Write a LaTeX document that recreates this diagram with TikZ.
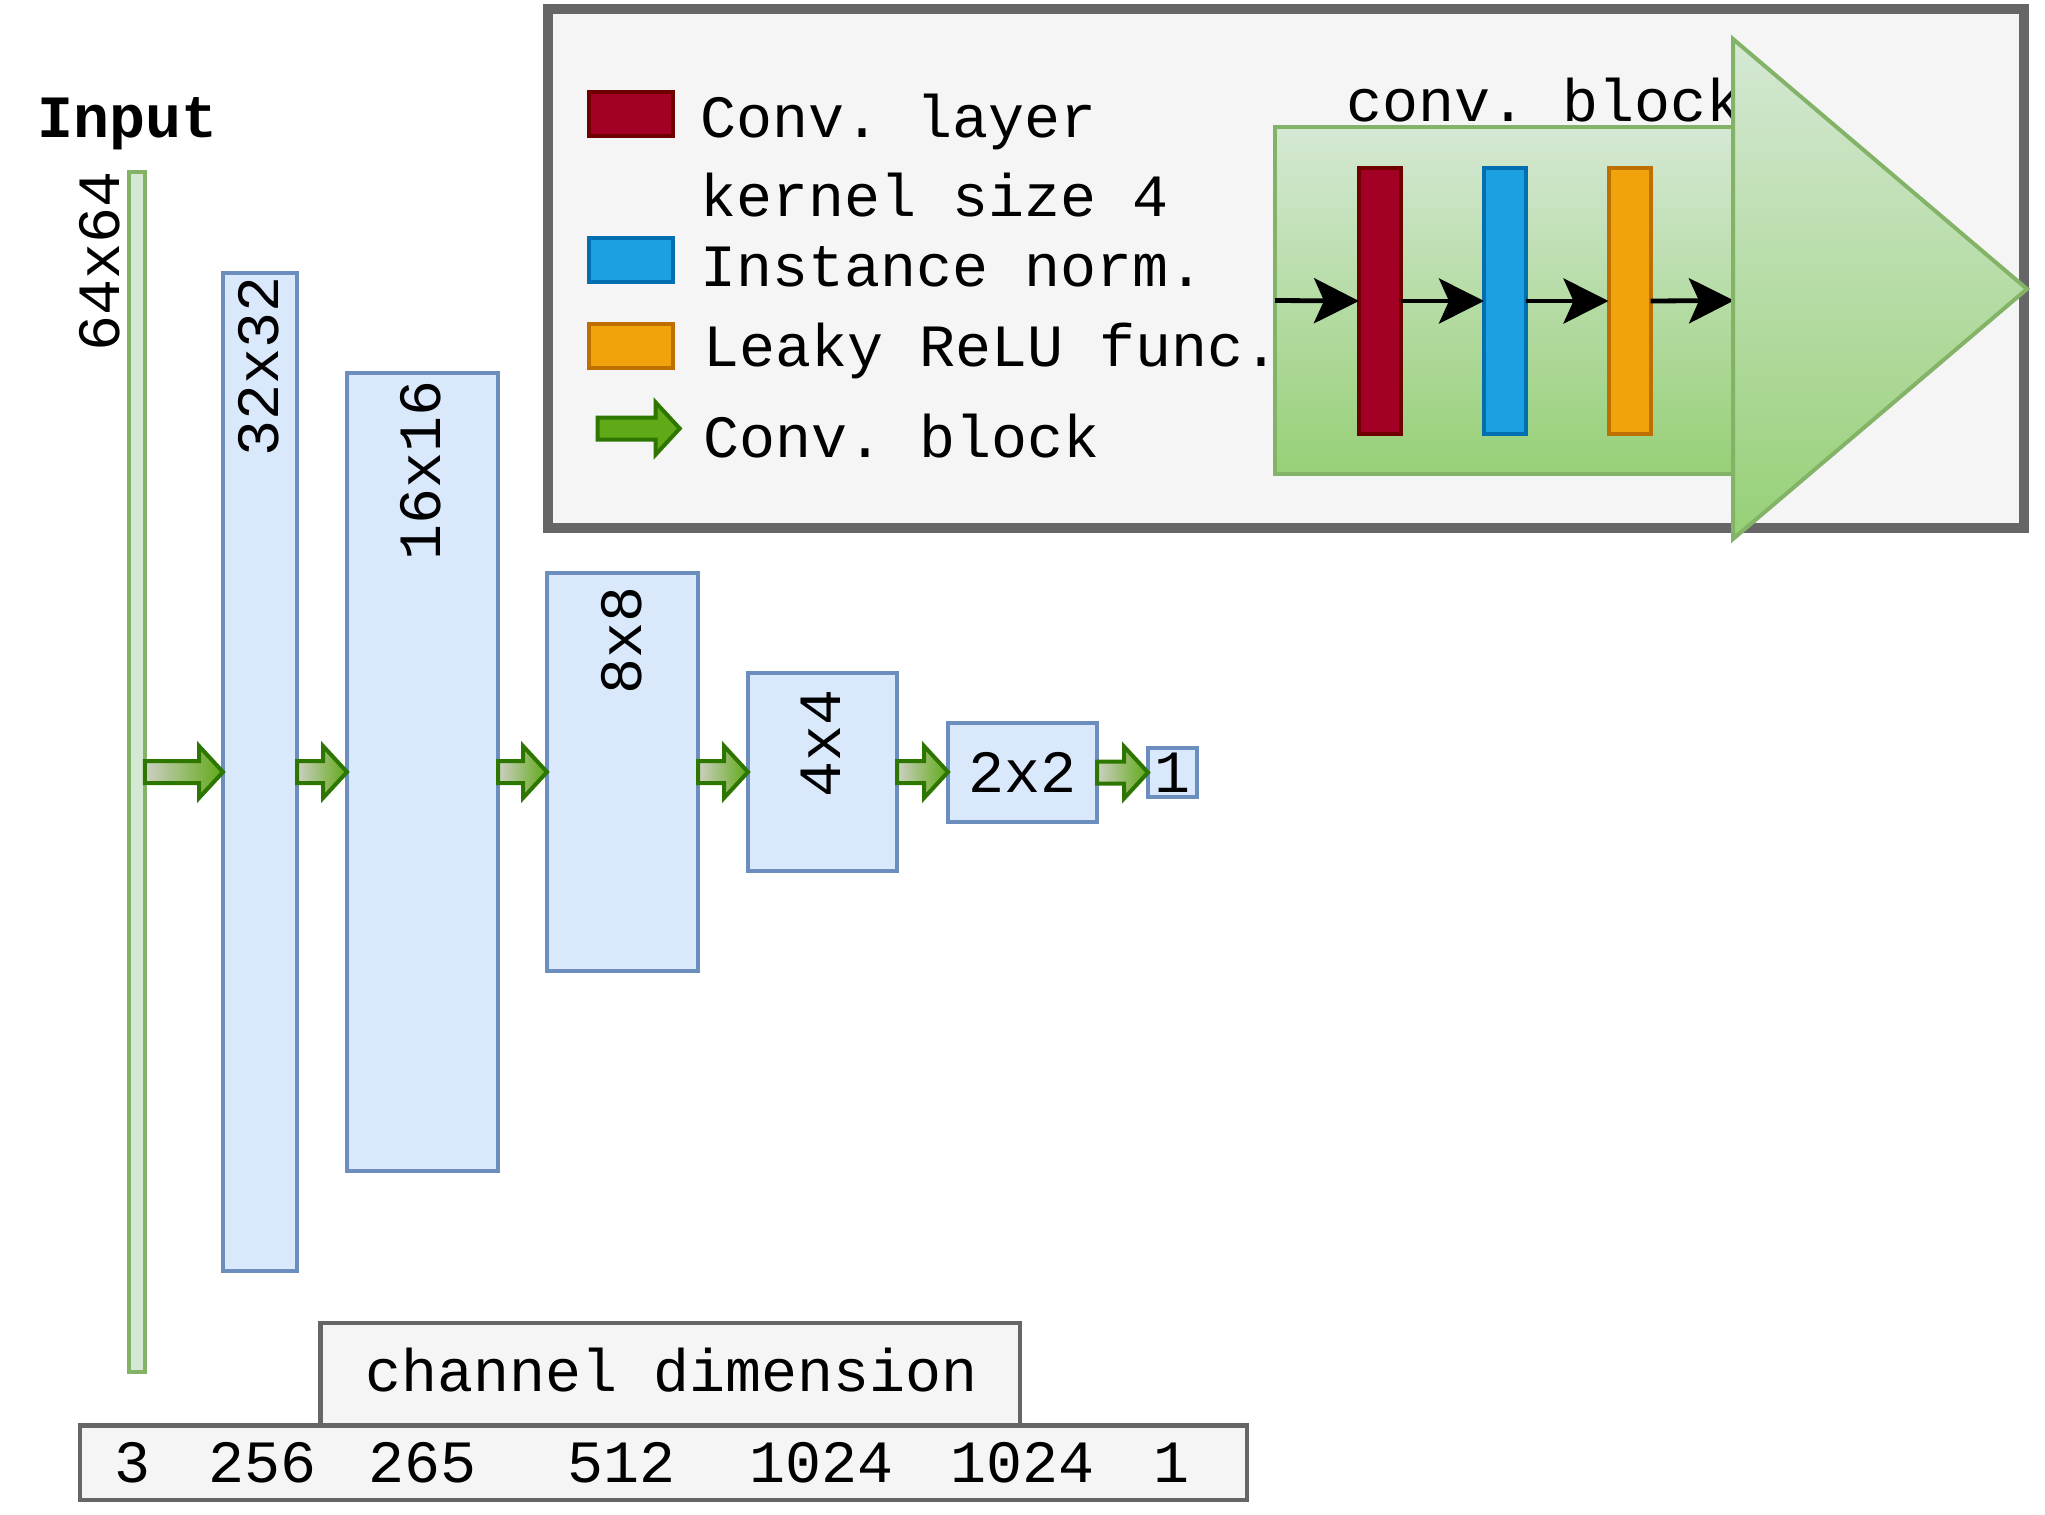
\documentclass[tikz,border=0pt]{standalone}
\usepackage{fontspec}
\setmainfont{Liberation Mono}
\usetikzlibrary{arrows.meta,calc}
\definecolor{bfill}{HTML}{DAE8FC}
\definecolor{bstroke}{HTML}{6C8EBF}
\definecolor{gfill}{HTML}{D5E8D4}
\definecolor{gstroke}{HTML}{82B366}
\definecolor{gdark}{HTML}{97D077}
\definecolor{grayfill}{HTML}{F5F5F5}
\definecolor{graystroke}{HTML}{666666}
\definecolor{redfill}{HTML}{A20025}
\definecolor{redstroke}{HTML}{6F0000}
\definecolor{bluefill}{HTML}{1BA1E2}
\definecolor{bluestroke}{HTML}{006EAF}
\definecolor{orfill}{HTML}{F0A30A}
\definecolor{orstroke}{HTML}{BD7000}
\definecolor{arrfill}{HTML}{60A917}
\definecolor{arrstroke}{HTML}{2D7600}
\definecolor{arrlight}{RGB}{205,208,195}
\newcommand\blockarrow[3][blockarr]{%
  \path[#1] let \p1=(#2), \p2=(#3) in
   (\x1,\y1+5.5pt) -- (\x2-12pt,\y1+5.5pt) -- (\x2-12pt,\y1+13pt) -- (\x2,\y1)
   -- (\x2-12pt,\y1-13pt) -- (\x2-12pt,\y1-5.5pt) -- (\x1,\y1-5.5pt) -- cycle;}
\frenchspacing
\begin{document}
\begin{tikzpicture}[x=0.5pt,y=-0.5pt,
  every node/.style={font=\fontsize{30}{36}\selectfont\frenchspacing, inner sep=0pt, outer sep=0pt},
  fmap/.style={draw=bstroke, fill=bfill, line width=2pt},
  inbar/.style={draw=gstroke, fill=gfill, line width=2pt},
  graybox/.style={draw=graystroke, fill=grayfill, line width=2.25pt},
  layerbox/.style={line width=2pt},
  rotlabel/.style={rotate=90, anchor=east},
  txt/.style={anchor=base west},
  numtxt/.style={anchor=base},
  blockarr/.style={draw=arrstroke, line width=2pt, left color=arrlight, right color=arrfill},
  legarr/.style={draw=arrstroke, line width=2pt, fill=arrfill},
  inarr/.style={line width=2.4pt, -{Stealth[length=22.5pt,width=22.5pt,inset=5pt]}},
  cbshade/.style={draw=gstroke, line width=2pt, top color=gfill, bottom color=gdark}
]
\useasboundingbox (0,0) rectangle (2045,1515);

% ---------- legend ----------
\node[draw=graystroke, fill=grayfill, line width=5pt, minimum width=738.25pt, minimum height=259.5pt] (legend) at (1285.75,268.5) {};
\node[layerbox, draw=redstroke, fill=redfill, minimum width=42pt, minimum height=22pt] (lred) at (630.8,114.2) {};
\node[layerbox, draw=bluestroke, fill=bluefill, minimum width=42pt, minimum height=22pt] (lblue) at (630.8,259.5) {};
\node[layerbox, draw=orstroke, fill=orfill, minimum width=42pt, minimum height=22pt] (lor) at (630.8,346) {};
\coordinate (la) at (597.7,428.5);
\coordinate (lb) at (679.7,428.5);
\blockarrow[legarr]{la}{lb}
\node[txt] (t1) at (700,137.7) {Conv. layer};
\node[txt] (t2) at (700,216) {kernel size 4};
\node[txt] (t3) at (700,286.7) {Instance norm.};
\node[txt] (t4) at (703,366) {Leaky ReLU func.};
\node[txt] (t5) at (703,457) {Conv. block};

% ---------- conv block detail ----------
\node[cbshade, minimum width=229.5pt, minimum height=173.5pt] (cbrect) at (1504.5,300.5) {};
\node[layerbox, draw=redstroke, fill=redfill, minimum width=21pt, minimum height=133pt] (cred) at (1380,301) {};
\node[layerbox, draw=bluestroke, fill=bluefill, minimum width=21pt, minimum height=133pt] (cblue) at (1505,301) {};
\node[layerbox, draw=orstroke, fill=orfill, minimum width=21pt, minimum height=133pt] (cor) at (1629.5,301) {};
\draw[inarr] (cbrect.west) -- (cred.west);
\draw[inarr] (cred.east) -- (cblue.west);
\draw[inarr] (cblue.east) -- (cor.west);
\draw[inarr] (cor.east) -- (cbrect.east);
\node[txt] (cbtitle) at (1346,121.7) {conv. block};
\path[cbshade] (1733,39) -- (2027,289) -- (1733,539) -- cycle;

% ---------- network ----------
\node[txt, font=\fontsize{30}{36}\selectfont\bfseries] (inputlbl) at (38,137) {Input};
\node[inbar, minimum width=7.8pt, minimum height=600pt] (in) at (137,772) {};
\node[fmap, minimum width=37pt, minimum height=499.2pt] (b1) at (260,772) {};
\node[fmap, minimum width=75.5pt, minimum height=399pt] (b2) at (422.5,772) {};
\node[fmap, minimum width=75.5pt, minimum height=199pt] (b3) at (622.5,772) {};
\node[fmap, minimum width=74.5pt, minimum height=99pt] (b4) at (822.5,772) {};
\node[fmap, minimum width=74.5pt, minimum height=49.5pt] (b5) at (1022.5,772.5) {2x2};
\node[fmap, minimum width=24.5pt, minimum height=24.5pt] (b6) at (1172.5,772.5) {1};

\node[rotlabel] (l0) at (100,171) {64x64};
\node[rotlabel] (l1) at (259,276) {32x32};
\node[rotlabel] (l2) at (421,380) {16x16};
\node[rotlabel] (l3) at (622,586) {8x8};
\node[rotlabel] (l4) at (821,689) {4x4};

\blockarrow{in.east}{b1.west}
\blockarrow{b1.east}{b2.west}
\blockarrow{b2.east}{b3.west}
\blockarrow{b3.east}{b4.west}
\blockarrow{b4.east}{b5.west}
\blockarrow{b5.east}{b6.west}

% ---------- channel dimension ----------
\node[graybox, minimum width=583.5pt, minimum height=37.25pt] (nums) at (663.5,1462.75) {};
\node[graybox, minimum width=349.75pt, minimum height=51.25pt] (chan) at (670.25,1374.25) {};
\node[numtxt] (chantxt) at (672,1391) {channel dimension};
\node[numtxt] (n0) at (133,1482) {3};
\node[numtxt] (n1) at (262.5,1482) {256};
\node[numtxt] (n2) at (422.5,1482) {265};
\node[numtxt] (n3) at (622,1482) {512};
\node[numtxt] (n4) at (822,1482) {1024};
\node[numtxt] (n5) at (1022.5,1482) {1024};
\node[numtxt] (n6) at (1171,1482) {1};
\end{tikzpicture}
\end{document}
